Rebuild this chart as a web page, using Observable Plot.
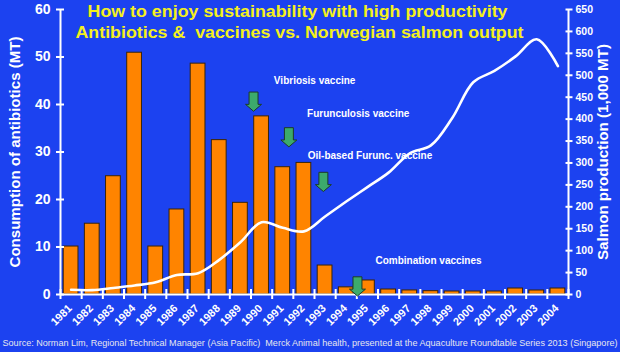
<!DOCTYPE html>
<html><head><meta charset="utf-8">
<script src="https://cdn.jsdelivr.net/npm/d3@7"></script>
<script src="https://cdn.jsdelivr.net/npm/@observablehq/plot@0.6"></script>
<style>
html,body{margin:0;padding:0;background:#1c42f0;}
#chart{width:620px;height:352px;overflow:hidden;}
</style></head><body><div id="chart"></div>
<script>
// ---- data ----
const years = [1981,1982,1983,1984,1985,1986,1987,1988,1989,1990,1991,1992,1993,1994,1995,1996,1997,1998,1999,2000,2001,2002,2003,2004];
const antibiotics = [10.1,14.9,24.9,50.9,10.1,17.9,48.6,32.5,19.3,37.5,26.8,27.7,6.1,1.5,2.95,1.05,0.85,0.7,0.63,0.63,0.63,1.26,0.84,1.26];
const salmon = [10.7,10,15,20.5,28,44.5,48.6,79,119,165,152,144,178,212,245,278,322,340,402,484,510,543,582,521];
const leftTicks = [0,10,20,30,40,50,60];
const salmonTicks = [0,50,100,150,200,250,300,350,400,450,500,550,600,650];
const vaccineLabels = ["Vibriosis vaccine","Furunculosis vaccine","Oil-based Furunc. vaccine","Combination vaccines"];
const vaccineLabelYear = [1990.58,1992.15,1992.18,1995.38];
const vaccineLabelLevel = [44.9,38.1,29.1,7.17];
const arrowYear = [1989.62,1991.29,1992.92,1994.53];
const arrowLevel = [40.6,33.1,23.7,1.7];
const titleLines = ["How to enjoy sustainability with high productivity","Antibiotics &  vaccines vs. Norwegian salmon output"];
const leftTitle = "Consumption of antibiotics (MT)";
const rightTitle = "Salmon production (1,000 MT)";
const sourceNote = "Source: Norman Lim, Regional Technical Manager (Asia Pacific)  Merck Animal health, presented at the Aquaculture Roundtable Series 2013 (Singapore)";

// ---- derived tables ----
const leftMax = 60, rightMax = 650;
const toLeft = v => v * leftMax / rightMax;
const rows = years.map((year, i) => ({year, anti: antibiotics[i], salmon: salmon[i]}));
const bounds = [years[0] - 0.5, ...years.map(y => y + 0.5)];
const labels = vaccineLabels.map((t, i) => ({t, x: vaccineLabelYear[i], y: vaccineLabelLevel[i]}));
const arrows = arrowYear.map((x, i) => ({x, y: arrowLevel[i]}));

const downArrow = {
  draw(ctx, size) {
    const r = Math.sqrt(size / Math.PI);
    const sw = 0.56 * r, hw = r, top = -1.2 * r, neck = 0.34 * r, tip = 1.2 * r;
    ctx.moveTo(-sw, top); ctx.lineTo(sw, top); ctx.lineTo(sw, neck); ctx.lineTo(hw, neck);
    ctx.lineTo(0, tip); ctx.lineTo(-hw, neck); ctx.lineTo(-sw, neck); ctx.closePath();
  }
};

const narrow = "'Liberation Sans Narrow', 'Arial Narrow', 'Liberation Sans', sans-serif";
const W = "white";

const chart = Plot.plot({
  width: 620, height: 352,
  marginLeft: 60, marginRight: 52, marginTop: 9, marginBottom: 58,
  style: {background: "transparent", color: W, fontFamily: "'Liberation Sans', Arial, sans-serif", fontSize: "10px", overflow: "visible"},
  x: {type: "linear", domain: [bounds[0], bounds[bounds.length - 1]], label: null},
  y: {domain: [0, leftMax], label: null},
  marks: [
    Plot.rectY(rows, {x1: d => d.year - 0.5, x2: d => d.year + 0.5, y: "anti", insetLeft: 3.2, insetRight: 3.2, fill: "#ff8400", stroke: "#3a2408", strokeWidth: 1}),
    Plot.line(rows, {x: "year", y: d => toLeft(d.salmon), stroke: W, strokeWidth: 2.6, curve: "catmull-rom"}),
    // axis lines
    Plot.ruleY([0], {stroke: W, strokeWidth: 2}),
    Plot.ruleX([bounds[0]], {stroke: W, strokeWidth: 2}),
    Plot.ruleX([bounds[bounds.length - 1]], {stroke: W, strokeWidth: 2}),
    // ticks crossing axes
    Plot.axisX(bounds, {anchor: "bottom", tickSize: 10, dy: -5, tickFormat: () => "", color: W, strokeWidth: 2}),
    Plot.axisY(leftTicks, {anchor: "left", tickSize: 8, dx: 4, tickFormat: () => "", color: W, strokeWidth: 2}),
    Plot.axisY(salmonTicks.map(toLeft), {anchor: "right", tickSize: 7, dx: -3.5, tickFormat: () => "", color: W, strokeWidth: 2}),
    // tick labels
    Plot.axisY(leftTicks, {anchor: "left", tickSize: 0, tickPadding: 10, color: W, fontSize: 14, fontWeight: "bold", fontFamily: narrow}),
    Plot.axisY(salmonTicks.map(toLeft), {anchor: "right", tickSize: 0, tickPadding: 7, tickFormat: v => String(Math.round(v * rightMax / leftMax)), color: W, fontSize: 10.5, fontWeight: "bold", fontFamily: narrow}),
    Plot.text(years, {x: d => d, frameAnchor: "bottom", text: d => String(d), rotate: -45, textAnchor: "end", lineAnchor: "middle", dx: -1, dy: 12, fill: W, fontSize: 11, fontWeight: "bold", fontFamily: narrow}),
    // axis titles
    Plot.text([leftTitle], {frameAnchor: "left", textAnchor: "middle", lineAnchor: "middle", dx: -45.5, rotate: -90, fill: W, fontSize: 15, fontWeight: "bold"}),
    Plot.text([rightTitle], {frameAnchor: "right", textAnchor: "middle", lineAnchor: "middle", dx: 35, rotate: -90, fill: W, fontSize: 15, fontWeight: "bold"}),
    // vaccine annotations
    Plot.dot(arrows, {x: "x", y: "y", symbol: downArrow, r: 8, fill: "#3caa6c", stroke: "#1d3a28", strokeWidth: 1}),
    Plot.text(labels, {x: "x", y: "y", text: "t", textAnchor: "start", fill: W, fontSize: 10, fontWeight: "bold"}),
    // title and source
    Plot.text([titleLines[0]], {frameAnchor: "top", textAnchor: "middle", lineAnchor: "middle", dx: -17, dy: 2, fill: "#f4f01c", fontSize: 16.5, fontWeight: "bold"}),
    Plot.text([titleLines[1]], {frameAnchor: "top", textAnchor: "middle", lineAnchor: "middle", dx: -15, dy: 23, fill: "#f4f01c", fontSize: 16.5, fontWeight: "bold"}),
    Plot.text([sourceNote], {frameAnchor: "bottom", textAnchor: "middle", lineAnchor: "middle", dx: -4.5, dy: 49, fill: "#e6e6ee", fontSize: 9})
  ]
});
document.getElementById("chart").appendChild(chart);
// fit the long texts to the widths measured on the reference
const fit = {[sourceNote]: 615, [titleLines[0]]: 420, [titleLines[1]]: 448, [leftTitle]: 231, [rightTitle]: 216};
chart.querySelectorAll("text").forEach(t => {
  const w = fit[t.textContent];
  if (w) { t.setAttribute("textLength", w); t.setAttribute("lengthAdjust", "spacingAndGlyphs"); }
});
</script></body></html>
